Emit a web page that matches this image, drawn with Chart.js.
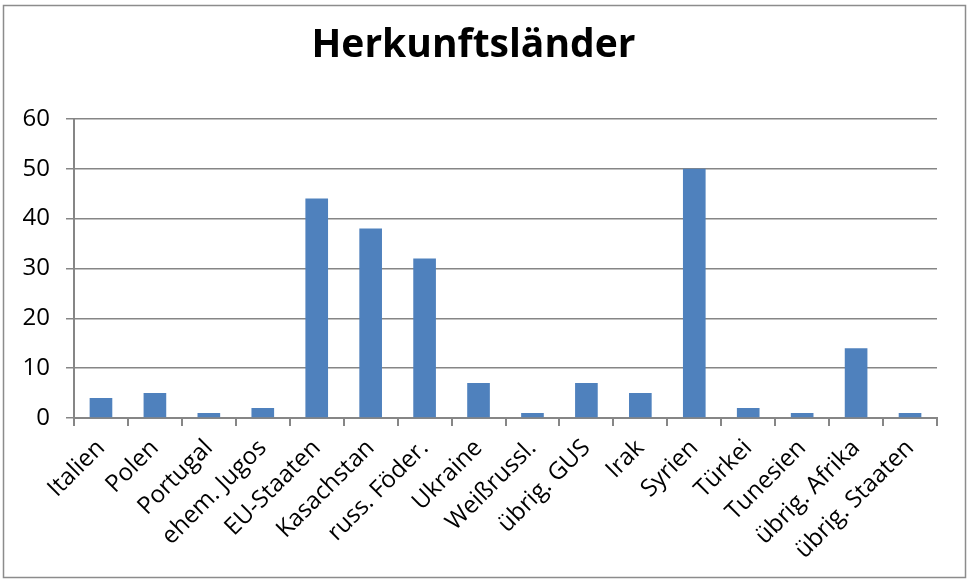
<!DOCTYPE html>
<html><head><meta charset="utf-8">
<script src="https://cdn.jsdelivr.net/npm/chart.js@4"></script>
<style>html,body{margin:0;padding:0;background:#fff}#wrap{width:969px;height:582px;position:relative}</style>
</head><body><div id="wrap"><canvas id="c" width="969" height="582"></canvas></div>
<script>
const categories = ["Italien","Polen","Portugal","ehem. Jugos","EU-Staaten","Kasachstan","russ. Föder.","Ukraine","Weißrussl.","übrig. GUS","Irak","Syrien","Türkei","Tunesien","übrig. Afrika","übrig. Staaten"];
const values = [4,5,1,2,44,38,32,7,1,7,5,50,2,1,14,1];
const yTicks = [0,10,20,30,40,50,60];
const titleText = "Herkunftsländer";

const borderPlugin = {
  id: 'frame',
  beforeDraw(chart){
    const ctx = chart.ctx;
    ctx.save();
    ctx.fillStyle = '#fff';
    ctx.fillRect(0,0,chart.width,chart.height);
    ctx.strokeStyle = '#8c8c8c';
    ctx.lineWidth = 1.5;
    ctx.strokeRect(3.5,5.5,962,572);
    ctx.restore();
  }
};

new Chart(document.getElementById('c'), {
  type: 'bar',
  data: { labels: categories, datasets: [{ data: values, backgroundColor: '#4F81BD', borderWidth: 0, barPercentage: 0.42, categoryPercentage: 1 }] },
  options: {
    responsive: false, animation: false,
    layout: { padding: { left: 10, right: 32, top: 14, bottom: 4 } },
    plugins: {
      legend: { display: false }, tooltip: { enabled: false },
      title: { display: true, text: titleText, color: '#000', font: { family: 'Open Sans', size: 39, weight: 'bold' }, padding: { top: 8, bottom: 50 } }
    },
    scales: {
      x: {
        offset: true,
        grid: { display: true, offset: true, drawOnChartArea: false, drawTicks: true, tickLength: 8, color: '#868686', lineWidth: 2 },
        border: { display: true, color: '#868686', width: 2 },
        ticks: { color: '#000', font: { family: 'Open Sans', size: 24 }, maxRotation: 45, minRotation: 45, autoSkip: false, padding: 8 },
        afterFit(s){ s.height = 160; }
      },
      y: {
        min: 0, max: 60,
        afterBuildTicks(s){ s.ticks = yTicks.map(v => ({ value: v })); },
        grid: { color: '#868686', lineWidth: 1.5, tickLength: 8 },
        border: { display: true, color: '#868686', width: 2 },
        ticks: { color: '#000', font: { family: 'Open Sans', size: 24 }, padding: 16 },
        afterFit(s){ s.width = 64; }
      }
    }
  },
  plugins: [borderPlugin]
});
</script></body></html>
